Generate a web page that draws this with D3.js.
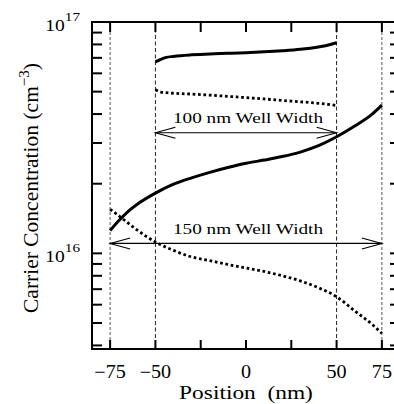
<!DOCTYPE html>
<html>
<head>
<meta charset="utf-8">
<script src="https://cdn.jsdelivr.net/npm/d3@7"></script>
<style>
  html, body { margin: 0; padding: 0; background: #fff; }
  svg { display: block; }
  text { font-family: "Liberation Serif", "Times New Roman", serif; fill: #000; }
</style>
</head>
<body>
<svg id="chart" width="394" height="404"></svg>
<script>
// ---- data ----
const pos100 = [-50, -47, -44, -40, -30, -20, -10, 0, 10, 20, 30, 40, 45, 50];
const solid100 = [6.73e16, 6.9e16, 7.03e16, 7.1e16, 7.21e16, 7.28e16, 7.32e16, 7.37e16, 7.43e16, 7.51e16, 7.62e16, 7.8e16, 7.93e16, 8.13e16];
const dotted100 = [5.1e16, 4.98e16, 4.95e16, 4.92e16, 4.88e16, 4.83e16, 4.77e16, 4.71e16, 4.65e16, 4.58e16, 4.52e16, 4.45e16, 4.41e16, 4.35e16];

const pos150 = [-75, -70, -65, -60, -50, -40, -30, -20, -10, 0, 10, 20, 30, 40, 50, 60, 70, 75];
const solid150 = [1.255e16, 1.39e16, 1.52e16, 1.63e16, 1.82e16, 1.99e16, 2.12e16, 2.24e16, 2.35e16, 2.45e16, 2.53e16, 2.62e16, 2.74e16, 2.92e16, 3.19e16, 3.55e16, 4.02e16, 4.37e16];
const dotted150 = [1.55e16, 1.45e16, 1.35e16, 1.26e16, 1.12e16, 1.03e16, 9.65e15, 9.3e15, 8.95e15, 8.65e15, 8.35e15, 8.0e15, 7.6e15, 7.1e15, 6.49e15, 5.64e15, 4.9e15, 4.51e15];

const xTickValues = [-75, -50, -25, 0, 25, 50, 75];
const xTickLabels = [-75, -50, 0, 50, 75];
const yLabelValues = [1e16, 1e17];
const yLabelExps = ["16", "17"];
const wellEdges = [-75, -50, 50, 75];
const arrows = [
  { from: -50, to: 50, level: 3.32e16, label: "100 nm Well Width" },
  { from: -75, to: 75, level: 1.104e16, label: "150 nm Well Width" }
];

// ---- layout ----
const svg = d3.select("#chart");
const x = d3.scaleLinear().domain([-85, 85]).range([92, 400]);
const y = d3.scaleLog().domain([3.86e15, 1e17]).range([349, 22]);
const [X0, X1] = x.range();
const [Y0, Y1] = y.range(); // bottom, top

// well edge dashed lines
svg.append("g").selectAll("line").data(wellEdges).join("line")
  .attr("x1", d => x(d)).attr("x2", d => x(d))
  .attr("y1", Y1).attr("y2", Y0)
  .attr("stroke", d => Math.abs(d) === 75 ? "#555" : "#222")
  .attr("stroke-width", 1)
  .attr("stroke-dasharray", d => Math.abs(d) === 75 ? "3,2" : "4,2.5");

// curves
const line = d3.line().curve(d3.curveMonotoneX).x(d => x(d[0])).y(d => y(d[1]));
const series = [
  { xs: pos100, ys: solid100, dash: null },
  { xs: pos100, ys: dotted100, dash: "2.7,2.7" },
  { xs: pos150, ys: solid150, dash: null },
  { xs: pos150, ys: dotted150, dash: "2.7,2.7" }
];
series.forEach(s => {
  svg.append("path")
    .datum(s.xs.map((v, i) => [v, s.ys[i]]))
    .attr("d", line)
    .attr("fill", "none")
    .attr("stroke", "#000")
    .attr("stroke-width", s.dash ? 2.8 : 3)
    .attr("stroke-dasharray", s.dash);
});

// arrows
const ah = 20, aw = 5.5;
arrows.forEach(a => {
  const xa = x(a.from), xb = x(a.to), ya = y(a.level);
  const g = svg.append("g").attr("stroke", "#000").attr("stroke-width", 1.1).attr("fill", "none");
  g.append("line").attr("x1", xa).attr("x2", xb).attr("y1", ya).attr("y2", ya);
  g.append("path").attr("d", `M${xa + ah},${ya - aw}L${xa},${ya}L${xa + ah},${ya + aw}`);
  g.append("path").attr("d", `M${xb - ah},${ya - aw}L${xb},${ya}L${xb - ah},${ya + aw}`);
  const cx = (x(-50) + x(50)) / 2 + 2;
  svg.append("text")
    .attr("transform", `translate(${cx},${ya - 9.5}) scale(1.24,1)`)
    .attr("text-anchor", "middle")
    .attr("font-size", 15.5)
    .text(a.label);
});

// frame
const frame = svg.append("g").attr("stroke", "#000").attr("stroke-width", 2).attr("fill", "none");
frame.append("path").attr("d", `M${X1},${Y1}H${X0}V${Y0}H${X1}V${Y1}`);

// y ticks (left and right, inward)
const yt = y.ticks();
svg.append("g").selectAll("line").data(yt).join("line")
  .attr("x1", X0).attr("x2", X0 + 10)
  .attr("y1", d => y(d)).attr("y2", d => y(d))
  .attr("stroke", "#000").attr("stroke-width", 2);
svg.append("g").selectAll("line").data(yt).join("line")
  .attr("x1", X1).attr("x2", X1 - 10)
  .attr("y1", d => y(d)).attr("y2", d => y(d))
  .attr("stroke", "#000").attr("stroke-width", 2);

// x ticks (top and bottom, inward)
svg.append("g").selectAll("line").data(xTickValues).join("line")
  .attr("x1", d => x(d)).attr("x2", d => x(d))
  .attr("y1", Y0).attr("y2", Y0 - 9)
  .attr("stroke", "#000").attr("stroke-width", 2);
svg.append("g").selectAll("line").data(xTickValues).join("line")
  .attr("x1", d => x(d)).attr("x2", d => x(d))
  .attr("y1", Y1).attr("y2", Y1 + 10)
  .attr("stroke", "#000").attr("stroke-width", 2);

// x tick labels
svg.append("g").selectAll("text").data(xTickLabels).join("text")
  .attr("transform", d => `translate(${x(d)},378) scale(1.12,1)`)
  .attr("text-anchor", "middle")
  .attr("font-size", 18)
  .text(d => d < 0 ? "\u2212" + Math.abs(d) : String(d));

// y tick labels 10^n
yLabelValues.forEach((v, i) => {
  const t = svg.append("text")
    .attr("transform", `translate(80,${y(v) + 9}) scale(1.22,1)`)
    .attr("text-anchor", "end");
  t.append("tspan").attr("font-size", 16).text("10");
  t.append("tspan").attr("font-size", 12.5).attr("dy", -10).text(yLabelExps[i]);
});

// axis titles
svg.append("text")
  .attr("transform", `translate(${x(0)},399) scale(1.2,1)`)
  .attr("text-anchor", "middle")
  .attr("font-size", 19.5)
  .attr("xml:space", "preserve")
  .style("white-space", "pre")
  .text("Position  (nm)");

const yl = svg.append("text")
  .attr("transform", "translate(37.5,188) rotate(-90)")
  .attr("text-anchor", "middle")
  .attr("font-size", 21.5);
yl.append("tspan").text("Carrier Concentration (cm");
yl.append("tspan").attr("font-size", 15).attr("dy", -9).text("\u22123");
yl.append("tspan").attr("dy", 9).text(")");
</script>
</body>
</html>
